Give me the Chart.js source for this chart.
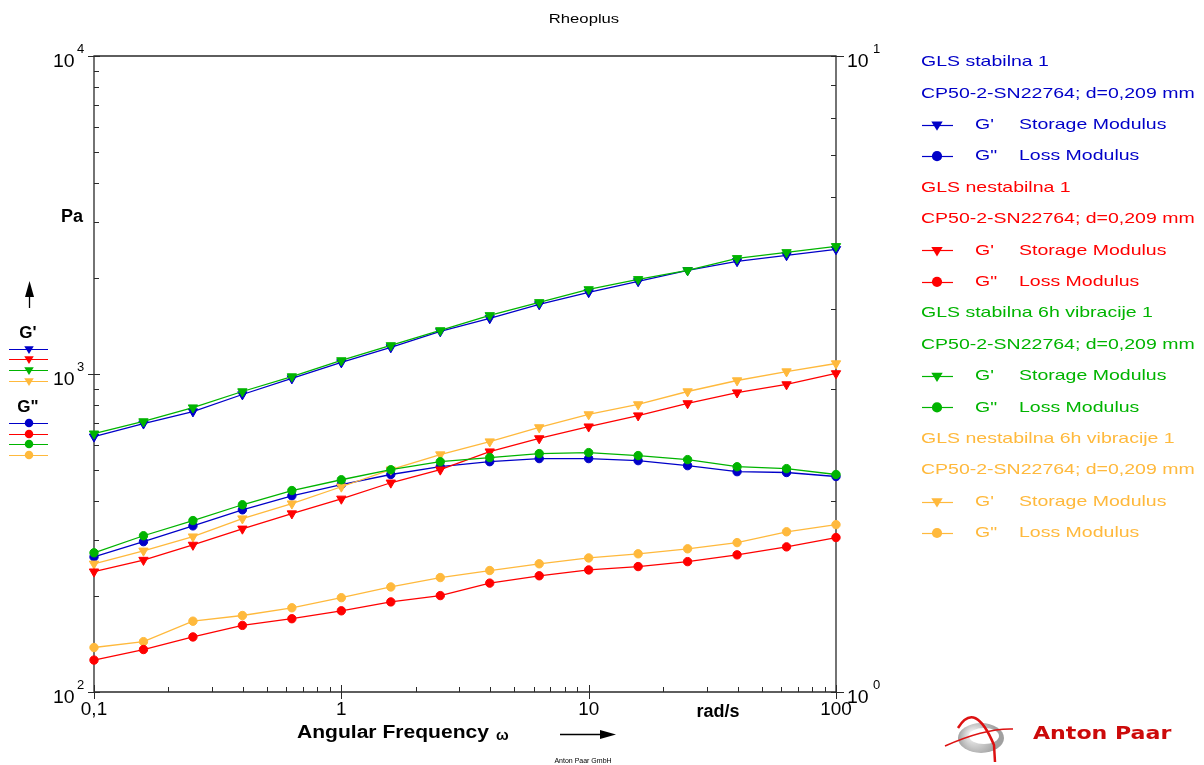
<!DOCTYPE html>
<html><head><meta charset="utf-8">
<script src="https://cdn.jsdelivr.net/npm/chart.js@4.4.1/dist/chart.umd.min.js"></script>
<style>html,body{margin:0;padding:0;background:#fff}#c{display:block}</style>
</head><body>
<canvas id="c" width="1204" height="765"></canvas>
<script>
// ---- data ----
const frequency = [0.1, 0.1585, 0.2512, 0.3981, 0.631, 1, 1.585, 2.512, 3.981, 6.31, 10, 15.85, 25.12, 39.81, 63.1, 100];

const stabilnaG1 = [635, 698, 762, 862, 968, 1087, 1212, 1361, 1496, 1655, 1806, 1956, 2118, 2261, 2361, 2467];
const stabilnaG2 = [266, 297, 333, 374, 414, 449, 483, 511, 530, 542, 542, 534, 515, 493, 490, 476];
const nestabilnaG1 = [239, 260, 290, 326, 364, 405, 455, 500, 570, 627, 683, 740, 808, 874, 927, 1004];
const nestabilnaG2 = [126, 136, 149, 162, 170, 180, 192, 201, 220, 232, 242, 248, 257, 270, 286, 306];
const stabilnaVibG1 = [649, 709, 784, 881, 982, 1103, 1230, 1371, 1529, 1680, 1845, 1985, 2118, 2311, 2413, 2521];
const stabilnaVibG2 = [274, 310, 346, 388, 430, 465, 500, 530, 546, 562, 566, 554, 538, 511, 504, 483];
const nestabilnaVibG1 = [253, 278, 308, 351, 391, 442, 500, 558, 613, 679, 746, 802, 881, 954, 1018, 1079];
const nestabilnaVibG2 = [138, 144, 167, 174, 184, 198, 214, 229, 241, 253, 264, 272, 282, 295, 319, 336];

const sampleNames = ['GLS stabilna 1', 'GLS nestabilna 1', 'GLS stabilna 6h vibracije 1', 'GLS nestabilna 6h vibracije 1'];
const sampleColors = ['#0000C8', '#FF0000', '#00B400', '#FFB93C'];
const geometryText = 'CP50-2-SN22764; d=0,209 mm';

const xTickValues = [0.1, 1, 10, 100];
const xTickLabels = ['0,1', '1', '10', '100'];
const yTickValues = [100, 1000, 10000];
const yTickExponents = ['2', '3', '4'];
const y2TickValues = [1, 10];
const y2TickExponents = ['0', '1'];

// ---- datasets ----
function ds(label, values, color, tri, order) {
  return {
    label,
    data: frequency.map((f, i) => ({ x: f, y: values[i] })),
    borderColor: color, backgroundColor: color,
    pointBackgroundColor: color, pointBorderColor: color,
    pointStyle: tri ? 'triangle' : 'circle',
    rotation: tri ? 180 : 0,
    pointRadius: tri ? 5.4 : 4.2,
    pointBorderWidth: 1,
    borderWidth: 1.3,
    showLine: true, fill: false, tension: 0, clip: false, order
  };
}
const datasets = [
  ds("stabilna G'", stabilnaG1, sampleColors[0], true, 4),
  ds('stabilna G"', stabilnaG2, sampleColors[0], false, 4),
  ds("nestabilna G'", nestabilnaG1, sampleColors[1], true, 2),
  ds('nestabilna G"', nestabilnaG2, sampleColors[1], false, 2),
  ds("stabilna vib G'", stabilnaVibG1, sampleColors[2], true, 1),
  ds('stabilna vib G"', stabilnaVibG2, sampleColors[2], false, 1),
  ds("nestabilna vib G'", nestabilnaVibG1, sampleColors[3], true, 3),
  ds('nestabilna vib G"', nestabilnaVibG2, sampleColors[3], false, 3)
];

const FONT = '"Liberation Sans", Arial, sans-serif';

function marker(ctx, x, y, tri, color, r) {
  ctx.save();
  ctx.fillStyle = color;
  ctx.beginPath();
  if (tri) {
    ctx.moveTo(x - r * 0.95, y - r * 0.55);
    ctx.lineTo(x + r * 0.95, y - r * 0.55);
    ctx.lineTo(x, y + r);
    ctx.closePath();
  } else {
    ctx.arc(x, y, r * 0.85, 0, Math.PI * 2);
  }
  ctx.fill();
  ctx.restore();
}

function text(ctx, s, x, y, font, color, align, sx) {
  ctx.save();
  ctx.font = font;
  ctx.fillStyle = color || '#000';
  ctx.textAlign = align || 'left';
  ctx.textBaseline = 'middle';
  ctx.translate(x, y);
  ctx.scale(sx || 1, 1);
  ctx.fillText(s, 0, 0);
  ctx.restore();
}

const axesPlugin = {
  id: 'axesPlugin',
  beforeDatasetsDraw(chart) {
    const ctx = chart.ctx;
    const { left: L, right: R, top: T, bottom: B } = chart.chartArea;
    const xs = chart.scales.x, ys = chart.scales.y, y2 = chart.scales.y2;
    ctx.save();
    ctx.strokeStyle = '#2a2a2a';
    ctx.lineWidth = 1.3;
    ctx.beginPath();
    ctx.moveTo(L, T); ctx.lineTo(R, T); ctx.lineTo(R, B); ctx.lineTo(L, B); ctx.closePath();
    ctx.stroke();
    ctx.lineWidth = 1;
    ctx.beginPath();
    [0.1, 1, 10].forEach(d => {
      for (let m = 2; m <= 9; m++) {
        const px = Math.round(xs.getPixelForValue(d * m)) + 0.5;
        ctx.moveTo(px, B); ctx.lineTo(px, B - 5);
      }
    });
    xTickValues.forEach(v => {
      const px = Math.round(xs.getPixelForValue(v)) + 0.5;
      ctx.moveTo(px, B - 7); ctx.lineTo(px, B + 7);
    });
    [100, 1000].forEach(d => {
      for (let m = 2; m <= 9; m++) {
        const py = Math.round(ys.getPixelForValue(d * m)) + 0.5;
        ctx.moveTo(L, py); ctx.lineTo(L + 5, py);
      }
    });
    yTickValues.forEach(v => {
      const py = Math.round(ys.getPixelForValue(v)) + 0.5;
      ctx.moveTo(L - 6, py); ctx.lineTo(L + 6, py);
    });
    for (let m = 2; m <= 9; m++) {
      const py = Math.round(y2.getPixelForValue(m)) + 0.5;
      ctx.moveTo(R, py); ctx.lineTo(R - 5, py);
    }
    y2TickValues.forEach(v => {
      const py = Math.round(y2.getPixelForValue(v)) + 0.5;
      ctx.moveTo(R - 5, py); ctx.lineTo(R + 8, py);
    });
    ctx.stroke();
    ctx.restore();
  },
  afterDraw(chart) {
    const ctx = chart.ctx;
    const { left: L, right: R, top: T, bottom: B } = chart.chartArea;
    const xs = chart.scales.x, ys = chart.scales.y, y2 = chart.scales.y2;
    const lab = '18px ' + FONT, supf = '13px ' + FONT;
    text(ctx, 'Rheoplus', 584, 19, '13px ' + FONT, '#000', 'center', 1.28);
    yTickValues.forEach((v, i) => {
      const py = ys.getPixelForValue(v);
      text(ctx, '10', 53, py + 6, lab, '#000', 'left', 1.08);
      text(ctx, yTickExponents[i], 77, py - 7, supf, '#000', 'left');
    });
    y2TickValues.forEach((v, i) => {
      const py = y2.getPixelForValue(v);
      text(ctx, '10', R + 11, py + 6, lab, '#000', 'left', 1.08);
      text(ctx, y2TickExponents[i], R + 37, py - 7, supf, '#000', 'left');
    });
    xTickValues.forEach((v, i) => {
      const px = xs.getPixelForValue(v);
      text(ctx, xTickLabels[i], px, B + 18, lab, '#000', 'center', 1.05);
    });
    text(ctx, 'rad/s', 718, B + 20, 'bold 18px ' + FONT, '#000', 'center');
    text(ctx, 'Angular Frequency', 297, B + 41, 'bold 18px ' + FONT, '#000', 'left', 1.17);
    text(ctx, 'ω', 496, B + 44, 'bold 15px ' + FONT, '#000', 'left');
    ctx.save();
    ctx.strokeStyle = '#000'; ctx.fillStyle = '#000'; ctx.lineWidth = 1.3;
    ctx.beginPath(); ctx.moveTo(560, 734.5); ctx.lineTo(604, 734.5); ctx.stroke();
    ctx.beginPath(); ctx.moveTo(600, 730); ctx.lineTo(616, 734.5); ctx.lineTo(600, 739); ctx.closePath(); ctx.fill();
    ctx.beginPath(); ctx.moveTo(29.5, 308); ctx.lineTo(29.5, 292); ctx.stroke();
    ctx.beginPath(); ctx.moveTo(29.5, 281); ctx.lineTo(25, 297); ctx.lineTo(34, 297); ctx.closePath(); ctx.fill();
    ctx.restore();
    text(ctx, 'Pa', 72, 217, 'bold 18px ' + FONT, '#000', 'center');
    text(ctx, "G'", 28, 333, 'bold 17px ' + FONT, '#000', 'center');
    text(ctx, 'G"', 28, 407, 'bold 17px ' + FONT, '#000', 'center');
    const gy1 = [349, 359, 370, 381], gy2 = [423, 434, 444, 455];
    sampleColors.forEach((c, i) => {
      [[gy1[i], true], [gy2[i], false]].forEach(([y, tri]) => {
        ctx.save(); ctx.strokeStyle = c; ctx.lineWidth = 1.2;
        ctx.beginPath(); ctx.moveTo(9, y + 0.5); ctx.lineTo(48, y + 0.5); ctx.stroke(); ctx.restore();
        marker(ctx, 29, y, tri, c, 5);
      });
    });
    let y = 62;
    const step = 31.4;
    const f = '15px ' + FONT, sx = 1.3;
    sampleColors.forEach((c, i) => {
      text(ctx, sampleNames[i], 921, y, f, c, 'left', sx); y += step;
      text(ctx, geometryText, 921, y, f, c, 'left', sx); y += step;
      [["G'", 'Storage Modulus', true], ['G"', 'Loss Modulus', false]].forEach(([g, n, tri]) => {
        ctx.save(); ctx.strokeStyle = c; ctx.lineWidth = 1.2;
        ctx.beginPath(); ctx.moveTo(922, Math.round(y) + 0.5); ctx.lineTo(953, Math.round(y) + 0.5); ctx.stroke(); ctx.restore();
        marker(ctx, 937, y, tri, c, 6);
        text(ctx, g, 975, y, f, c, 'left', sx);
        text(ctx, n, 1019, y, f, c, 'left', sx);
        y += step;
      });
    });
    text(ctx, 'Anton Paar GmbH', 583, 761, '7px ' + FONT, '#000', 'center');
    ctx.save();
    const cx = 978, cy = 738;
    const g = ctx.createRadialGradient(cx - 6, cy - 4, 2, cx, cy, 20);
    g.addColorStop(0, '#f4f4f4'); g.addColorStop(1, '#a0a0a0');
    ctx.fillStyle = g;
    ctx.beginPath(); ctx.ellipse(cx + 3, cy, 23, 15, 0, 0, Math.PI * 2); ctx.fill();
    ctx.fillStyle = '#fff';
    ctx.beginPath(); ctx.ellipse(cx + 6, cy - 2, 15, 8, 0, 0, Math.PI * 2); ctx.fill();
    ctx.strokeStyle = '#d11'; ctx.lineWidth = 2.5;
    ctx.beginPath(); ctx.moveTo(958, 728); ctx.quadraticCurveTo(975, 700, 994, 745); ctx.lineTo(995, 762); ctx.stroke();
    ctx.lineWidth = 1.5;
    ctx.beginPath(); ctx.moveTo(945, 746); ctx.quadraticCurveTo(985, 728, 1013, 729); ctx.stroke();
    ctx.restore();
    text(ctx, 'Anton Paar', 1033, 735, 'bold 17px "DejaVu Sans", sans-serif', '#cc0a0a', 'left', 1.3);
  }
};

new Chart(document.getElementById('c').getContext('2d'), {
  type: 'scatter',
  data: { datasets },
  options: {
    responsive: false,
    animation: false,
    devicePixelRatio: 1,
    layout: { padding: { left: 94, top: 56, right: 368, bottom: 73 } },
    plugins: { legend: { display: false }, tooltip: { enabled: false }, title: { display: false } },
    scales: {
      x: { type: 'logarithmic', min: 0.1, max: 100, display: false },
      y: { type: 'logarithmic', min: 100, max: 10000, display: false },
      y2: { type: 'logarithmic', min: 1, max: 10, display: false, position: 'right' }
    }
  },
  plugins: [axesPlugin]
});
</script>
</body></html>
